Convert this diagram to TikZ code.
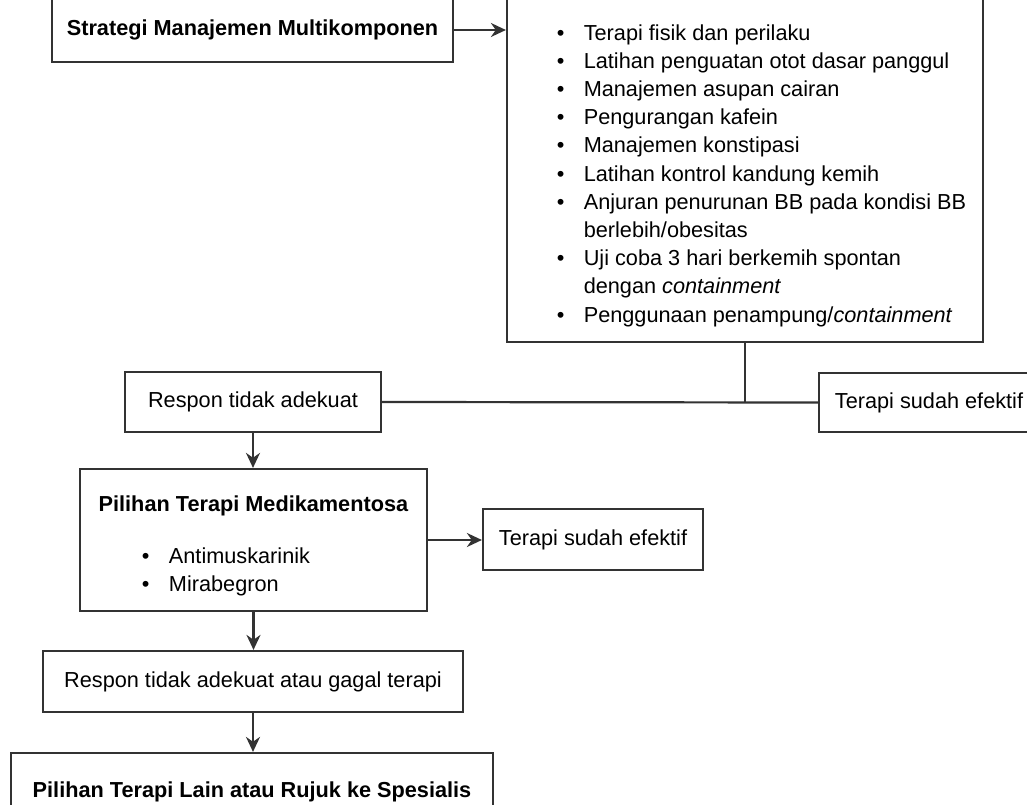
\documentclass[tikz,border=0pt]{standalone}
\usepackage{fontspec}
\setmainfont{Liberation Sans}
\usetikzlibrary{arrows.meta}
\definecolor{linegray}{HTML}{333333}
\newcommand\itm{\makebox[27pt][l]{\textbullet}}

\begin{document}
\begin{tikzpicture}[x=1pt,y=-1pt,>={Stealth[length=15pt,width=14pt]},
  box/.style={draw=linegray,line width=2.2pt,fill=white,inner sep=0pt,
    align=center,text=black,font=\fontsize{21.7}{28.2}\selectfont},
  link/.style={draw=linegray,line width=2.2pt}]
  \useasboundingbox (0,0) rectangle (1027,805);
  \clip (0,0) rectangle (1027,805);

  \node[box,minimum width=401,minimum height=64] (strat) at (252.5,30)
    {\textbf{Strategi Manajemen Multikomponen}};
  \node[box,minimum width=476,minimum height=345] (multi) at (745,169.5) {%
    \begin{tabular}{@{\hspace{33pt}}l@{}}
      \rule{0pt}{31.7pt}\itm Terapi fisik dan perilaku\\
      \itm Latihan penguatan otot dasar panggul\\
      \itm Manajemen asupan cairan\\
      \itm Pengurangan kafein\\
      \itm Manajemen konstipasi\\
      \itm Latihan kontrol kandung kemih\\
      \itm Anjuran penurunan BB pada kondisi BB\\
      \hspace*{27pt}berlebih/obesitas\\
      \itm Uji coba 3 hari berkemih spontan\\
      \hspace*{27pt}dengan \emph{containment}\\
      \itm Penggunaan penampung/\emph{containment}
    \end{tabular}};
  \node[box,minimum width=256,minimum height=60] (resp1) at (253,402)
    {Respon tidak adekuat};
  \node[box,minimum width=220,minimum height=59] (eff1) at (929,402.5)
    {Terapi sudah efektif};
  \node[box,minimum width=347,minimum height=142] (medi) at (253.5,540)
    {\rule{0pt}{31pt}\textbf{Pilihan Terapi Medikamentosa}\\[24pt]
     \begin{tabular}[t]{@{}l@{\hspace{55pt}}}
       \itm Antimuskarinik\\
       \itm Mirabegron
     \end{tabular}};
  \node[box,minimum width=220,minimum height=61] (eff2) at (593,539.5)
    {Terapi sudah efektif};
  \node[box,minimum width=420,minimum height=61] (resp2) at (253,681.5)
    {Respon tidak adekuat atau gagal terapi};
  \node[box,minimum width=482,minimum height=78] (final) at (252,792)
    {\textbf{Pilihan Terapi Lain atau Rujuk ke Spesialis}};

  \draw[link,->] (strat.east) -- (strat.east -| multi.west);
  \draw[link] (multi.south) -- (multi.south |- resp1.east);
  \draw[link] (resp1.east) -- (eff1.west);
  \draw[link,->] (resp1.south) -- (resp1.south |- medi.north);
  \draw[link,->] (medi.east) -- (medi.east -| eff2.west);
  \draw[link,->] (medi.south) -- (medi.south |- resp2.north);
  \draw[link,->] (resp2.south) -- (resp2.south |- final.north);
\end{tikzpicture}
\end{document}
